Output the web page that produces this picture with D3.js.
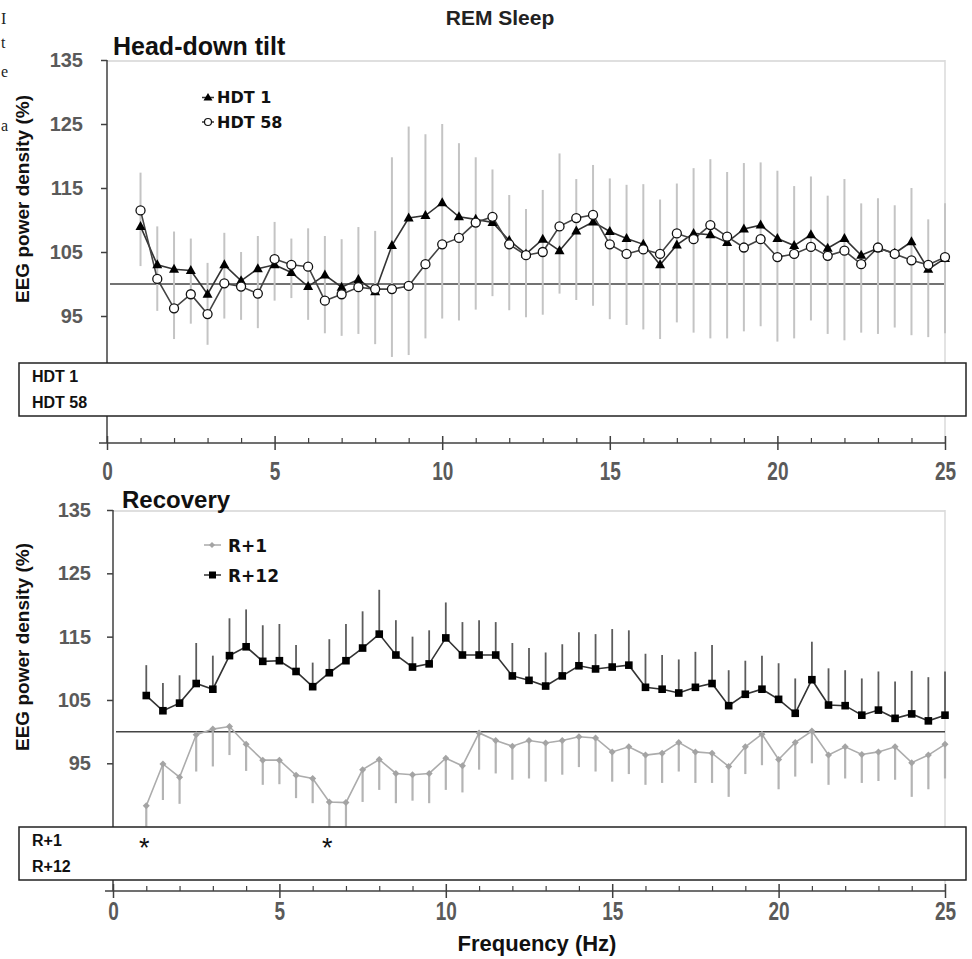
<!DOCTYPE html>
<html>
<head>
<meta charset="utf-8">
<script src="https://cdn.jsdelivr.net/npm/d3@7"></script>
<style>
body { margin: 0; background: #fff; }
svg text { font-family: "Liberation Sans", Arial, sans-serif; }
</style>
</head>
<body>
<div id="chart"></div>
<script>
// frequency bins (Hz)
const freqs = [1, 1.5, 2, 2.5, 3, 3.5, 4, 4.5, 5, 5.5, 6, 6.5, 7, 7.5, 8, 8.5, 9, 9.5, 10, 10.5,
  11, 11.5, 12, 12.5, 13, 13.5, 14, 14.5, 15, 15.5, 16, 16.5, 17, 17.5, 18, 18.5, 19, 19.5, 20, 20.5,
  21, 21.5, 22, 22.5, 23, 23.5, 24, 24.5, 25];

// head-down tilt, % of baseline
const hdt1 = [109.0, 103.0, 102.3, 102.1, 98.4, 103.0, 100.5, 102.4, 103.0, 101.8, 99.6, 101.4, 99.5, 100.7, 98.8, 106.0, 110.3, 110.7, 112.7, 110.5,
  110.1, 109.6, 106.8, 104.7, 107.0, 105.2, 108.3, 109.7, 108.2, 107.1, 106.2, 103.0, 106.1, 107.9, 107.7, 106.5, 108.6, 109.2, 107.1, 106.0,
  107.7, 105.6, 107.1, 104.5, 105.6, 104.8, 106.6, 102.3, 104.0];
const hdt58 = [111.5, 100.8, 96.2, 98.4, 95.3, 100.1, 99.6, 98.5, 103.9, 103.0, 102.7, 97.4, 98.4, 99.5, 99.2, 99.2, 99.7, 103.1, 106.2, 107.2,
  109.6, 110.5, 106.2, 104.5, 105.0, 109.0, 110.3, 110.8, 106.2, 104.7, 105.4, 104.7, 107.9, 107.0, 109.2, 107.4, 105.7, 107.0, 104.2, 104.7,
  105.8, 104.4, 105.2, 103.1, 105.7, 104.7, 103.7, 103.0, 104.2];
// error bar ends
const hdtErrHi = [117.4, 109.0, 108.2, 107.1, 103.3, 108.0, 105.0, 107.5, 109.7, 107.1, 108.7, 107.5, 107.0, 108.9, 108.3, 119.8, 124.6, 123.4, 125.0, 122.0,
  119.8, 117.9, 113.9, 111.7, 114.7, 120.4, 116.4, 118.6, 116.5, 115.5, 115.6, 113.2, 115.7, 118.1, 119.5, 117.5, 118.9, 119.0, 117.7, 115.3,
  116.8, 113.8, 116.4, 112.6, 113.4, 112.3, 115.0, 110.1, 112.6];
const hdtErrLo = [102.8, 95.8, 91.4, 93.8, 90.5, 94.6, 94.4, 93.1, 97.4, 97.8, 94.4, 92.3, 91.9, 92.2, 90.6, 88.6, 88.9, 91.5, 94.6, 94.3,
  96.0, 98.1, 95.9, 94.8, 95.2, 98.5, 97.5, 96.6, 94.5, 93.6, 92.9, 91.4, 94.0, 92.4, 91.5, 91.5, 92.6, 93.4, 91.0, 91.5,
  94.3, 92.2, 91.2, 92.4, 92.2, 93.2, 92.0, 91.7, 92.3];

// recovery
const r1 = [88.3, 94.9, 92.8, 99.5, 100.4, 100.8, 98.0, 95.5, 95.5, 93.1, 92.6, 88.9, 88.8, 94.0, 95.6, 93.4, 93.2, 93.4, 95.8, 94.6,
  99.8, 98.6, 97.7, 98.6, 98.2, 98.6, 99.2, 99.0, 96.8, 97.6, 96.3, 96.6, 98.3, 96.8, 96.6, 94.5, 97.6, 99.6, 95.6, 98.3,
  100.1, 96.3, 97.6, 96.4, 96.8, 97.6, 95.1, 96.3, 98.0];
const r1ErrLo = [85.0, 89.2, 88.6, 93.7, 94.5, 96.3, 93.8, 91.6, 91.7, 89.5, 88.7, 85.0, 85.0, 88.9, 90.8, 88.7, 89.1, 88.7, 90.8, 90.4,
  94.0, 93.4, 92.4, 92.6, 92.1, 93.2, 94.4, 93.7, 92.1, 93.3, 91.6, 91.9, 93.7, 91.9, 91.9, 89.7, 93.3, 94.7, 90.9, 92.9,
  95.0, 91.6, 92.6, 91.9, 92.2, 92.4, 89.7, 90.9, 92.6];
const r12 = [105.7, 103.3, 104.5, 107.6, 106.7, 112.0, 113.4, 111.1, 111.2, 109.5, 107.1, 109.3, 111.2, 113.2, 115.4, 112.1, 110.2, 110.7, 114.8, 112.1,
  112.1, 112.1, 108.8, 108.1, 107.2, 108.8, 110.4, 109.9, 110.2, 110.5, 107.0, 106.7, 106.1, 107.0, 107.6, 104.1, 105.9, 106.7, 105.1, 102.9,
  108.2, 104.2, 104.1, 102.6, 103.4, 102.1, 102.8, 101.7, 102.6];
const r12ErrHi = [110.5, 107.7, 108.9, 114.0, 112.0, 117.9, 119.3, 116.8, 117.0, 113.7, 110.9, 114.6, 117.0, 119.0, 122.4, 117.6, 115.0, 116.0, 120.4, 117.3,
  117.6, 117.3, 114.0, 113.2, 112.5, 113.8, 115.7, 115.4, 116.2, 116.0, 112.3, 112.1, 111.4, 112.6, 113.7, 109.7, 111.2, 112.0, 110.8, 108.4,
  114.2, 110.0, 109.7, 108.4, 109.5, 107.9, 109.6, 108.6, 109.5];
const r1Sig = [1, 6.5];

const yTicks = [95, 105, 115, 125, 135];
const xTicks = [0, 5, 10, 15, 20, 25];
const xMinor = [1, 2, 3, 4, 6, 7, 8, 9, 11, 12, 13, 14, 16, 17, 18, 19, 21, 22, 23, 24];

const svg = d3.select("#chart")
  .append("svg")
    .attr("width", 972)
    .attr("height", 959);

// stray letters cut off at the left edge
[["I", 24], ["t", 48], ["e", 77], ["a", 131]].forEach(([t, yy]) => {
  svg.append("text").attr("x", 1).attr("y", yy).text(t)
    .style("font-family", "'Liberation Serif', 'DejaVu Serif', serif").style("font-size", "16px").style("fill", "#222");
});

svg.append("text")
  .attr("x", 500).attr("y", 25)
  .attr("text-anchor", "middle")
  .style("font-weight", "bold").style("font-size", "21px").style("fill", "#222")
  .text("REM Sleep");

function panel(p) {
  const x = d3.scaleLinear().domain([0, 25]).range([p.left, 945]);
  const y = d3.scaleLinear().domain([95, 135]).range([p.y95, p.top]);
  const g = svg.append("g");

  // light frame
  g.append("line").attr("x1", p.left).attr("x2", 945).attr("y1", p.top + 1).attr("y2", p.top + 1)
    .style("stroke", "#d4d4d4").style("stroke-width", 1.5);
  g.append("line").attr("x1", 945).attr("x2", 945).attr("y1", p.top).attr("y2", p.axisY)
    .style("stroke", "#dadada").style("stroke-width", 1.5);

  // y axis
  g.append("line").attr("x1", p.left).attr("x2", p.left).attr("y1", p.top).attr("y2", p.axisY)
    .style("stroke", "#404040").style("stroke-width", 1.5);
  const ya = g.append("g")
    .attr("transform", `translate(${p.left},0)`)
    .call(d3.axisLeft(y).tickValues(yTicks).tickSize(6).tickPadding(p.yPad));
  ya.select(".domain").remove();
  ya.selectAll("line").style("stroke", "#404040").style("stroke-width", 1.5);
  ya.selectAll("text")
    .style("font-family", "'Liberation Sans', Arial, sans-serif")
    .style("font-size", "20px").style("font-weight", "bold").style("fill", "#5a5a5a");

  // y title
  g.append("text")
    .attr("transform", `translate(29,${p.titleY}) rotate(-90)`)
    .attr("text-anchor", "middle")
    .style("font-weight", "bold").style("font-size", "19px").style("fill", "#111")
    .text("EEG power density (%)");

  // reference line at 100 %
  g.append("line").attr("x1", p.left + 3).attr("x2", 945).attr("y1", y(100)).attr("y2", y(100))
    .style("stroke", "#444").style("stroke-width", 1.5);

  // x axis
  const xa = g.append("g")
    .attr("transform", `translate(0,${p.axisY})`)
    .call(d3.axisBottom(x).tickValues(xTicks).tickSize(7).tickPadding(p.xPad));
  xa.select(".domain").attr("d", `M${p.left - 8},0H945`).style("stroke", "#404040").style("stroke-width", 1.5);
  xa.selectAll(".tick line").attr("y1", -7).style("stroke", "#404040").style("stroke-width", 1.5);
  xa.selectAll("text")
    .attr("transform", "scale(0.76,1)")
    .style("font-family", "'Liberation Sans', Arial, sans-serif")
    .style("font-size", "25px").style("font-weight", "bold").style("fill", "#5a5a5a");
  const xm = g.append("g")
    .attr("transform", `translate(0,${p.axisY})`)
    .call(d3.axisBottom(x).tickValues(xMinor).tickSize(-5).tickFormat(""));
  xm.select(".domain").remove();
  xm.selectAll("line").style("stroke", "#404040").style("stroke-width", 1.2);

  return { x, y, g };
}

function labelBox(g, top, rows) {
  g.append("rect").attr("x", 19).attr("y", top).attr("width", 947).attr("height", 53)
    .style("fill", "#fff").style("stroke", "#222").style("stroke-width", 1.5);
  rows.forEach((r, i) => {
    g.append("text").attr("x", 32).attr("y", top + 19 + i * 26).text(r)
      .style("font-weight", "bold").style("font-size", "16px").style("fill", "#111");
  });
}

// ---------- Head-down tilt ----------
const A = panel({ left: 107, top: 60, y95: 316, axisY: 443, yPad: 18, xPad: 12, titleY: 199 });

A.g.append("g").selectAll("line")
  .data(freqs)
  .join("line")
    .attr("x1", d => A.x(d)).attr("x2", d => A.x(d))
    .attr("y1", (d, i) => A.y(hdtErrHi[i])).attr("y2", (d, i) => A.y(hdtErrLo[i]))
    .style("stroke", "#c4c4c4").style("stroke-width", 2);

const lineA = d3.line().x(d => A.x(d[0])).y(d => A.y(d[1]));
A.g.append("path").datum(d3.zip(freqs, hdt1)).attr("d", lineA)
  .style("fill", "none").style("stroke", "#333").style("stroke-width", 1.6);
A.g.append("path").datum(d3.zip(freqs, hdt58)).attr("d", lineA)
  .style("fill", "none").style("stroke", "#444").style("stroke-width", 1.6);

const tri = "M0,-5.5L5,3.5L-5,3.5Z";
A.g.append("g").selectAll("path")
  .data(d3.zip(freqs, hdt1))
  .join("path")
    .attr("d", tri)
    .attr("transform", d => `translate(${A.x(d[0])},${A.y(d[1])})`)
    .style("fill", "#000");
A.g.append("g").selectAll("circle")
  .data(d3.zip(freqs, hdt58))
  .join("circle")
    .attr("cx", d => A.x(d[0])).attr("cy", d => A.y(d[1])).attr("r", 4.5)
    .style("fill", "#fff").style("stroke", "#111").style("stroke-width", 1.3);

labelBox(A.g, 363, ["HDT 1", "HDT 58"]);

A.g.append("text").attr("x", 113).attr("y", 55).text("Head-down tilt")
  .style("font-weight", "bold").style("font-size", "25px").style("fill", "#111");

// legend
A.g.append("line").attr("x1", 202).attr("x2", 214).attr("y1", 97.5).attr("y2", 97.5).style("stroke", "#333").style("stroke-width", 1.5);
A.g.append("path").attr("d", "M0,-4.5L4.5,3L-4.5,3Z").attr("transform", "translate(208,97.5)").style("fill", "#000");
A.g.append("line").attr("x1", 202).attr("x2", 214).attr("y1", 122).attr("y2", 122).style("stroke", "#333").style("stroke-width", 1.5);
A.g.append("circle").attr("cx", 208).attr("cy", 122).attr("r", 3.5).style("fill", "#fff").style("stroke", "#111").style("stroke-width", 1.2);
A.g.append("text").attr("x", 217).attr("y", 103).text("HDT 1")
  .style("font-family", "'DejaVu Sans', sans-serif").style("font-weight", "bold").style("font-size", "16px").style("fill", "#111");
A.g.append("text").attr("x", 217).attr("y", 128).text("HDT 58")
  .style("font-family", "'DejaVu Sans', sans-serif").style("font-weight", "bold").style("font-size", "16px").style("fill", "#111");

// ---------- Recovery ----------
const B = panel({ left: 113, top: 510, y95: 763.3, axisY: 891, yPad: 16, xPad: 4, titleY: 647 });

// R+1 bars downward, R+12 bars upward
B.g.append("g").selectAll("line")
  .data(freqs)
  .join("line")
    .attr("x1", d => B.x(d)).attr("x2", d => B.x(d))
    .attr("y1", (d, i) => B.y(r1[i])).attr("y2", (d, i) => B.y(r1ErrLo[i]))
    .style("stroke", "#b4b4b4").style("stroke-width", 2.2);
B.g.append("g").selectAll("line")
  .data(freqs)
  .join("line")
    .attr("x1", d => B.x(d)).attr("x2", d => B.x(d))
    .attr("y1", (d, i) => B.y(r12[i])).attr("y2", (d, i) => B.y(r12ErrHi[i]))
    .style("stroke", "#5c5c5c").style("stroke-width", 1.8);

const lineB = d3.line().x(d => B.x(d[0])).y(d => B.y(d[1]));
B.g.append("path").datum(d3.zip(freqs, r1)).attr("d", lineB)
  .style("fill", "none").style("stroke", "#acacac").style("stroke-width", 1.6);
B.g.append("path").datum(d3.zip(freqs, r12)).attr("d", lineB)
  .style("fill", "none").style("stroke", "#333").style("stroke-width", 1.6);

B.g.append("g").selectAll("path")
  .data(d3.zip(freqs, r1))
  .join("path")
    .attr("d", "M0,-3.5L3.5,0L0,3.5L-3.5,0Z")
    .attr("transform", d => `translate(${B.x(d[0])},${B.y(d[1])})`)
    .style("fill", "#a4a4a4");
B.g.append("g").selectAll("rect")
  .data(d3.zip(freqs, r12))
  .join("rect")
    .attr("x", d => B.x(d[0]) - 3.8).attr("y", d => B.y(d[1]) - 3.8)
    .attr("width", 7.6).attr("height", 7.6)
    .style("fill", "#000");

labelBox(B.g, 827, ["R+1", "R+12"]);

B.g.append("g").selectAll("text")
  .data(r1Sig)
  .join("text")
    .attr("x", d => B.x(d) - 2).attr("y", 857)
    .attr("text-anchor", "middle")
    .style("font-size", "27px").style("fill", "#111")
    .text("*");

B.g.append("text").attr("x", 122).attr("y", 508).text("Recovery")
  .style("font-weight", "bold").style("font-size", "24px").style("fill", "#111");

// legend
B.g.append("line").attr("x1", 204).attr("x2", 221).attr("y1", 545).attr("y2", 545).style("stroke", "#aaa").style("stroke-width", 1.5);
B.g.append("path").attr("d", "M0,-3L3,0L0,3L-3,0Z").attr("transform", "translate(212,545)").style("fill", "#a4a4a4");
B.g.append("line").attr("x1", 204).attr("x2", 221).attr("y1", 575).attr("y2", 575).style("stroke", "#333").style("stroke-width", 1.5);
B.g.append("rect").attr("x", 209).attr("y", 571.5).attr("width", 7).attr("height", 7).style("fill", "#000");
B.g.append("text").attr("x", 228).attr("y", 552).text("R+1")
  .style("font-family", "'DejaVu Sans', sans-serif").style("font-weight", "bold").style("font-size", "17px").style("fill", "#111");
B.g.append("text").attr("x", 228).attr("y", 582).text("R+12")
  .style("font-family", "'DejaVu Sans', sans-serif").style("font-weight", "bold").style("font-size", "17px").style("fill", "#111");

svg.append("text")
  .attr("x", 537).attr("y", 951)
  .attr("text-anchor", "middle")
  .style("font-weight", "bold").style("font-size", "22px").style("fill", "#111")
  .text("Frequency (Hz)");
</script>
</body>
</html>
